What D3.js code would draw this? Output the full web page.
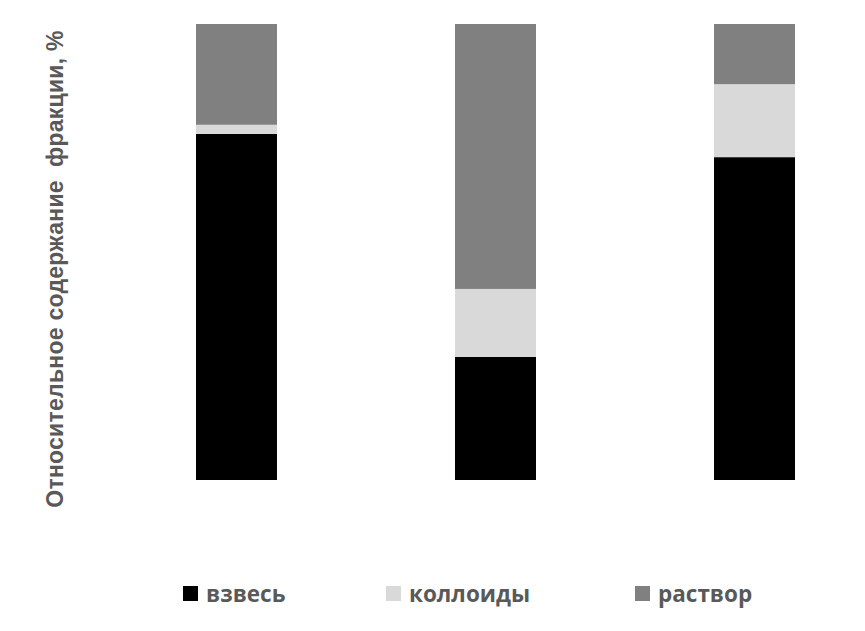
<!DOCTYPE html>
<html>
<head>
<meta charset="utf-8">
<script src="https://cdn.jsdelivr.net/npm/d3@7/dist/d3.min.js"></script>
<style>
    body { margin: 0; background: #fff; }
    svg { display: block; }
</style>
</head>
<body>
<div id="chart"></div>
<script>
// values, % of total per sample
const categories = ['1', '2', '3'];
const seriesNames = ['взвесь', 'коллоиды', 'раствор'];
const vzves = [75.9, 27.0, 70.8];
const kolloidy = [2.0, 14.9, 16.0];
const rastvor = [22.1, 58.1, 13.2];
const yTitle = 'Относительное содержание  фракции, %';

const colors = ['#000000', '#d9d9d9', '#808080'];

const width = 865;
const height = 631;
const margin = { top: 24, right: 40, bottom: 151, left: 66 };
const plotH = height - margin.top - margin.bottom;

const rows = categories.map((c, i) => ({
    cat: c,
    'взвесь': vzves[i],
    'коллоиды': kolloidy[i],
    'раствор': rastvor[i]
}));

const stacked = d3.stack().keys(seriesNames)(rows);

const svg = d3.select('#chart')
    .append('svg')
    .attr('width', width)
    .attr('height', height);

const g = svg.append('g')
    .attr('transform', `translate(${margin.left}, ${margin.top})`);

// step 259px, bar 81px
const xScale = d3.scaleBand()
    .domain(categories)
    .range([41, 818])
    .paddingInner(0.6873)
    .paddingOuter(0.3436);

const yScale = d3.scaleLinear()
    .domain([0, 100])
    .range([plotH, 0]);

const color = d3.scaleOrdinal()
    .domain(seriesNames)
    .range(colors);

g.selectAll('.layer')
    .data(stacked)
    .enter().append('g')
    .attr('class', 'layer')
    .attr('fill', d => color(d.key))
    .selectAll('rect')
    .data(d => d)
    .enter().append('rect')
    .attr('x', d => xScale(d.data.cat))
    .attr('y', d => yScale(d[1]))
    .attr('width', xScale.bandwidth())
    .attr('height', d => yScale(d[0]) - yScale(d[1]));

// y axis title
svg.append('text')
    .attr('transform', 'translate(62.5, 269) rotate(-90)')
    .attr('text-anchor', 'middle')
    .style('font-family', '"Liberation Sans", Arial, sans-serif')
    .style('font-size', '23px')
    .style('font-weight', 'bold')
    .style('letter-spacing', '0.25px')
    .style('fill', '#595959')
    .style('white-space', 'pre')
    .text(yTitle);

// legend
const legendX = [183, 386, 635];
const legend = svg.append('g')
    .attr('class', 'legend');

const item = legend.selectAll('.item')
    .data(seriesNames)
    .enter().append('g')
    .attr('class', 'item')
    .attr('transform', (d, i) => `translate(${legendX[i]}, 586)`);

item.append('rect')
    .attr('width', 15)
    .attr('height', 15)
    .attr('fill', d => color(d));

item.append('text')
    .attr('x', 23)
    .attr('y', 15.5)
    .style('font-family', '"Open Sans", sans-serif')
    .style('font-size', '22.5px')
    .style('font-weight', 'bold')
    .style('fill', '#595959')
    .text(d => d);
</script>
</body>
</html>
